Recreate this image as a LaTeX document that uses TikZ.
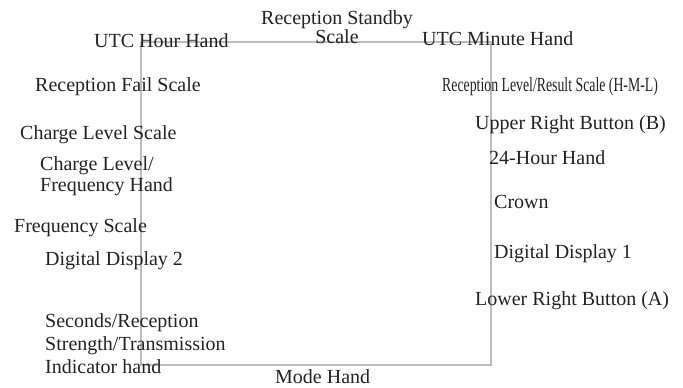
\documentclass[tikz,border=0pt]{standalone}
\usepackage{fontspec}
\setmainfont{Liberation Serif}
\definecolor{labelgray}{HTML}{222222}
\definecolor{framegray}{HTML}{BDBDBD}

\begin{document}
\begin{tikzpicture}[x=1pt,y=1pt,
  lbl/.style={anchor=base west,text=labelgray,font=\fontsize{20}{22}\selectfont}]
  \tikzstyle{every node}+=[inner sep=0pt]
  \useasboundingbox (0,0) rectangle (683,-388);
  % watch outline
  \coordinate (framenw) at (141,-42);
  \coordinate (framese) at (491,-365);
  \draw [framegray, line width=2pt] (framenw) rectangle (framese);
  % top (multi-line nodes sit on their last line)
  \node [lbl, anchor=base, align=center, font=\fontsize{20}{19}\selectfont] (standby) at (337,-43) {Reception Standby\\Scale};
  \node [lbl] (utchour) at (94,-47) {UTC Hour Hand};
  \node [lbl] (utcminute) at (422,-45) {UTC Minute Hand};
  % left side
  \node [lbl] (recfail) at (35,-91) {Reception Fail Scale};
  \node [lbl] (chargescale) at (20,-139) {Charge Level Scale};
  \node [lbl, align=left, font=\fontsize{20}{21}\selectfont] (chargehand) at (40,-191) {Charge Level/\\Frequency Hand};
  \node [lbl] (freqscale) at (14,-232) {Frequency Scale};
  \node [lbl] (display2) at (45,-265) {Digital Display 2};
  \node [lbl, align=left, font=\fontsize{20}{23}\selectfont] (secondshand) at (45,-373) {Seconds/Reception\\Strength/Transmission\\Indicator hand};
  % right side
  \node [lbl] (reclevel) at (442,-91) {\scalebox{0.69}[1]{Reception Level/Result Scale (H-M-L)}};
  \node [lbl] (upperright) at (475,-129) {Upper Right Button (B)};
  \node [lbl] (hour24) at (489,-164) {24-Hour Hand};
  \node [lbl] (crown) at (494,-208) {Crown};
  \node [lbl] (display1) at (494,-258) {Digital Display 1};
  \node [lbl] (lowerright) at (475,-305) {Lower Right Button (A)};
  % bottom
  \node [lbl] (modehand) at (275,-383) {Mode Hand};
\end{tikzpicture}
\end{document}
